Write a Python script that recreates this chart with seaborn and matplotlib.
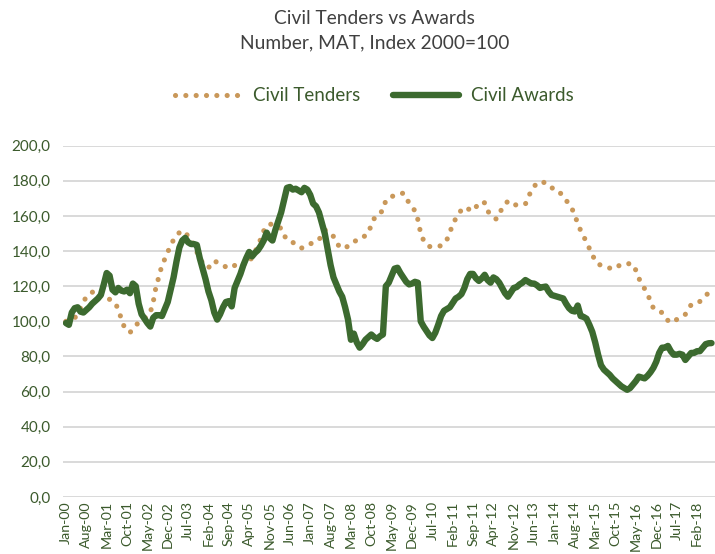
import pandas as pd
import matplotlib
matplotlib.use("Agg")
import matplotlib.pyplot as plt
import seaborn as sns
from matplotlib.ticker import FuncFormatter

# monthly, Jan-00 .. Jul-18
months = pd.date_range("2000-01-01", periods=223, freq="MS").strftime("%b-%y").tolist()

tenders = [
    100, 100.5, 101, 101.8, 104.5, 107.5, 111, 114, 115.5, 116.5,
    117.5, 117.5, 116.5, 114.5, 113.5, 112.5, 111.8, 110, 107, 101.5,
    97, 95, 93.6, 95.5, 97.5, 99.5, 100.8, 101.8, 102.7, 105,
    111, 120, 125.5, 132, 135.5, 139.5, 143, 146.5, 149, 150.5,
    151.6, 150.5, 148.5, 147, 143, 139.5, 136.5, 133, 131, 130.5,
    132.5, 134.5, 133.5, 132.5, 131.8, 131, 130.5, 130.5, 131.8, 133,
    133.2, 132.6, 132, 134, 136.5, 139.5, 143, 147, 151.5, 154,
    155.5, 155, 154, 153.5, 153, 149, 146.5, 145.5, 145, 143.5,
    142.5, 141.7, 142.5, 143.5, 144, 145, 146, 146.5, 149, 152,
    151.5, 150, 148.3, 145, 142.6, 141.8, 141.5, 143, 144.5, 145.5,
    146, 146.4, 147.5, 149, 150.2, 155, 158.5, 161, 161.8, 163,
    169, 170, 171, 171.7, 172.2, 172.6, 173, 170, 167.5, 165,
    163, 158, 150, 146, 143.5, 142.6, 142.5, 142.6, 142.8, 143,
    144.5, 146.4, 151, 154.5, 158.5, 161, 163.5, 165, 164.2, 163.5,
    162.8, 165, 167.7, 167.7, 167.5, 163, 160.5, 159.2, 158.2, 161,
    164.5, 166.5, 168.5, 168, 166.5, 166.2, 166.4, 166.6, 166.8, 170.5,
    174.5, 177, 178.3, 179.2, 179.7, 178, 176.5, 176, 175.5, 175,
    173, 171.5, 169, 166.5, 164.3, 160, 156, 151.6, 148.5, 145,
    141.5, 138, 134.5, 132.5, 132, 131.6, 131, 130.3, 129.7, 130.5,
    131.5, 132.5, 132.8, 132.8, 132.8, 132.5, 129, 124.5, 121.5, 118.5,
    115.5, 111.5, 107.5, 106.5, 105.5, 105, 102.5, 100.5, 99.2, 100,
    101, 101.8, 103, 104, 106.5, 109.5, 110.6, 111, 111.3, 112.8,
    114.5, 116.4, 117,
]

awards = [
    99, 98, 105, 107.5, 108, 105.5, 105, 106.5, 108, 110,
    111.5, 113, 115, 121, 127.5, 126, 118, 116.5, 119, 117.5,
    117, 118, 116, 121.5, 120, 110, 104, 101.5, 99, 97,
    102, 103.5, 103.5, 103, 107, 111, 118, 125, 134, 142,
    146, 147.5, 145, 144, 144, 143.5, 136, 130, 124, 117,
    112, 105, 101, 104, 108, 111, 111.5, 108.5, 119, 123,
    127, 132, 136, 139.5, 137, 139, 140.5, 143, 146, 150.5,
    147.5, 146, 152, 157, 162, 169, 176, 176.5, 175, 175.5,
    174.5, 173.5, 176, 175, 172, 167, 165.5, 162, 156, 150,
    141, 132, 125, 121, 117, 114, 108, 101, 89.5, 93,
    88, 85, 87, 89.5, 91, 92.5, 91, 90, 91.5, 92.5,
    120, 122, 126, 130, 130.5, 127.5, 125, 122.5, 121, 121.5,
    122.5, 122, 100, 97, 94.5, 92, 90.5, 93.5, 98, 103,
    106, 107, 108, 110.5, 113, 114, 115.5, 119, 124, 127,
    127, 124.5, 123, 124.5, 126.5, 123.5, 122, 125, 124, 122,
    119, 116, 114, 116.5, 119, 119.5, 121, 122, 123.5, 122.5,
    121.5, 121.5, 120.5, 119, 119.5, 119.8, 117, 115, 114.5, 114,
    113.5, 113, 110, 107.5, 106, 105.6, 109, 103, 102.5, 101.5,
    98, 94, 88, 81, 75, 72.5, 71, 69.5, 67.5, 66,
    64.5, 63, 62, 61, 62, 64, 66, 68.5, 68, 67.5,
    69, 71, 73.5, 77, 82, 85, 85, 86, 83, 81,
    81, 81.5, 81, 78, 80, 82, 82, 83, 83, 85,
    87, 87.5, 87.6,
]

TAN = "#C9985A"
GREEN = "#3C6A2F"
TEXT_GREEN = "#3B5A2C"
GRID = "#D9D9D9"

df = pd.DataFrame({"idx": range(len(months)), "month": months,
                   "Civil Tenders": tenders, "Civil Awards": awards})

sns.set_style("white")
plt.rcParams["font.family"] = ["Lato", "DejaVu Sans"]

fig = plt.figure(figsize=(7.15, 5.54), dpi=100)
ax = fig.add_axes([0.088, 0.103, 0.912, 0.634])

sns.lineplot(data=df, x="idx", y="Civil Tenders", ax=ax, color=TAN,
             linewidth=3.7, label="Civil Tenders")
sns.lineplot(data=df, x="idx", y="Civil Awards", ax=ax, color=GREEN,
             linewidth=4.6, label="Civil Awards")
tl, al = ax.get_lines()[:2]
tl.set_linestyle((0, (0.01, 2.0)))
tl.set_dash_capstyle("round")
al.set_solid_capstyle("round")
al.set_solid_joinstyle("round")

ax.set_xlim(-1.05, 223.2)
ax.set_ylim(0, 200)
ax.set_yticks(range(0, 201, 20))
ax.yaxis.set_major_formatter(FuncFormatter(lambda v, p: f"{v:.1f}".replace(".", ",")))
ticks = list(range(0, len(months), 7))
ax.set_xticks(ticks)
ax.set_xticklabels([months[i] for i in ticks], rotation=90)
ax.tick_params(axis="y", length=0, labelsize=11, labelcolor=TEXT_GREEN, pad=9)
ax.tick_params(axis="x", length=0, labelsize=10.3, labelcolor=TEXT_GREEN, pad=3)
ax.set_xlabel("")
ax.set_ylabel("")
ax.grid(axis="y", color=GRID, linewidth=1.4)
ax.set_axisbelow(True)
for s in ax.spines.values():
    s.set_visible(False)

handles, labels = ax.get_legend_handles_labels()
ax.get_legend().remove()
fig.legend(handles, labels, loc="center", bbox_to_anchor=(0.524, 0.827), ncol=2,
           frameon=False, fontsize=13.5, handlelength=3.5, columnspacing=1.75,
           handletextpad=0.65, labelcolor=TEXT_GREEN)

fig.text(0.524, 0.967, "Civil Tenders vs Awards", ha="center", va="center",
         fontsize=13.8, color="#404040")
fig.text(0.524, 0.922, "Number, MAT, Index 2000=100", ha="center", va="center",
         fontsize=13.8, color="#404040")

fig.savefig("out.png", dpi=100)
